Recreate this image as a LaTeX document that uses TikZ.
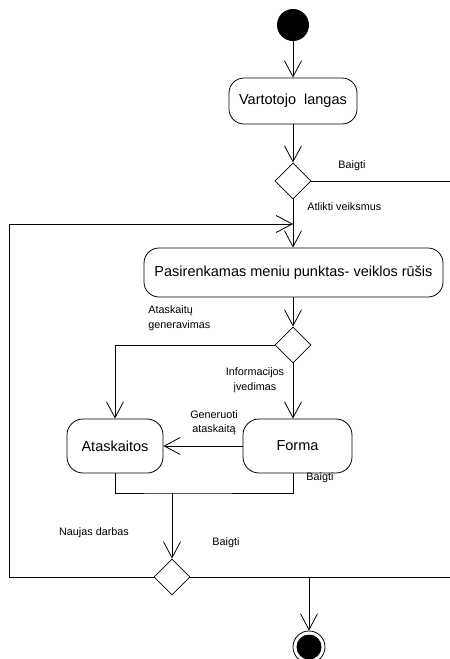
\documentclass[tikz,border=0pt]{standalone}
\usepackage{fontspec}
\setmainfont{Liberation Sans}
\usetikzlibrary{arrows.meta,shapes.geometric}
\begin{document}
\begin{tikzpicture}[x=1pt,y=-1pt,
  line width=0.8pt,
  flow/.style={-{Straight Barb[length=16pt,width=17pt,line width=0.8pt]}},
  activity/.style={draw,rounded corners=15pt,align=center,inner sep=0pt,font=\fontsize{14.5}{17}\selectfont},
  decision/.style={draw,diamond,minimum width=36pt,minimum height=36pt,inner sep=0pt},
  lbl/.style={font=\fontsize{10.8}{13}\selectfont,align=center,inner sep=0pt}]
  \useasboundingbox (0,0) rectangle (450,659);

  % start and end points
  \node[circle,fill=black,minimum size=32pt,inner sep=0pt] (start) at (293,25) {};
  \node[circle,draw,minimum size=32pt,inner sep=0pt] (finish) at (309,647) {};
  \fill (finish.center) circle (12.5pt);

  % activities
  \node[activity,minimum width=128pt,minimum height=46pt] (window) at (293,101) {Vartotojo\ \ langas};
  \node[activity,minimum width=299pt,minimum height=49pt] (menu) at (293.5,272.5) {Pasirenkamas meniu punktas- veiklos rūšis};
  \node[activity,minimum width=96pt,minimum height=54pt,rounded corners=16pt] (reports) at (115,446) {Ataskaitos};
  \node[activity,minimum width=109pt,minimum height=54pt,rounded corners=16pt] (form) at (297.5,446) {Forma};

  % decisions
  \node[decision] (d1) at (293,181) {};
  \node[decision] (d2) at (293,345) {};
  \node[decision] (d3) at (172,577) {};

  % helper points
  \coordinate (exit1) at (450,181);
  \coordinate (merge) at (293,224);
  \coordinate (loopL) at (9,577);
  \coordinate (loopT) at (9,224);
  \coordinate (exit3) at (450,577);
  \coordinate (endtap) at (309,577);
  \coordinate (join) at (172,493);

  % connectors
  \draw[flow] (start) -- (window);
  \draw[flow] (window) -- (d1);
  \draw (d1.east) -- (exit1);
  \draw[flow] (d1.south) -- (menu.north -| d1.south);
  \draw[flow] (d3.west) -- (loopL) -- (loopT) -- (merge);
  \draw[flow] (menu.south -| d2.north) -- (d2.north);
  \draw[flow] (d2.west) -| (reports.north);
  \draw[flow] (d2.south) -- (form.north -| d2.south);
  \draw[flow] (form.west) -- (reports.east);
  \draw (reports.south) |- (join) -| (form.south -| d2.south);
  \draw[flow] (join) -- (d3.north);
  \draw (d3.east) -- (exit3);
  \draw[flow] (endtap) -- (finish.north);

  % guard labels
  \node[lbl] at (352,166) {Baigti};
  \node[lbl,anchor=west] at (307,207) {Atlikti veiksmus};
  \node[lbl,align=left,anchor=west] at (148,318) {Ataskaitų\\[2pt]generavimas};
  \node[lbl] at (255,380.5) {Informacijos\\[2pt]įvedimas};
  \node[lbl] at (214,422.5) {Generuoti\\[1pt]ataskaitą};
  \node[lbl] at (320,478) {Baigti};
  \node[lbl] at (94,533) {Naujas darbas};
  \node[lbl] at (226,543) {Baigti};
\end{tikzpicture}
\end{document}
